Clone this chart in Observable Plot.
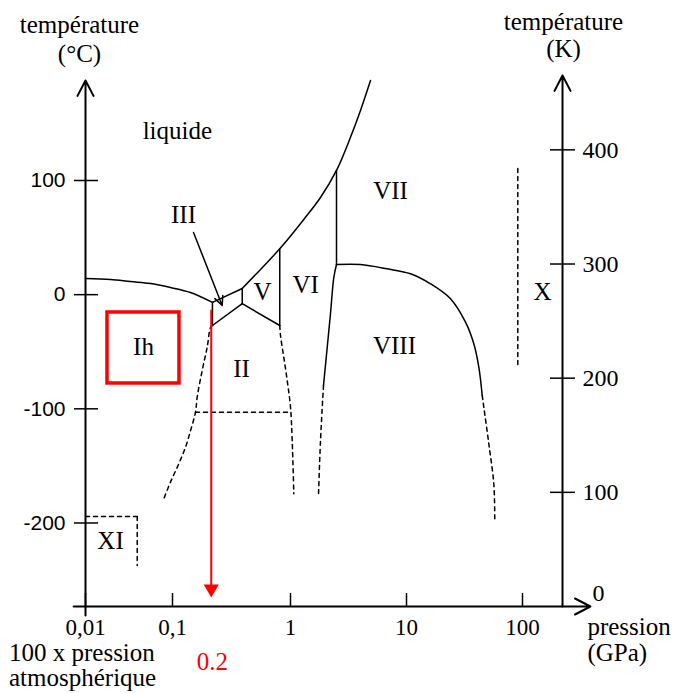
<!DOCTYPE html>
<html><head><meta charset="utf-8">
<script src="https://cdn.jsdelivr.net/npm/d3@7"></script>
<script src="https://cdn.jsdelivr.net/npm/@observablehq/plot@0.6"></script>
<style>body{margin:0;background:#fff}</style>
</head><body><div id="chart"></div>
<script>
// ---- axis ticks ----
const xTicks = [0.01, 0.1, 1, 10, 100];
const xTickLabels = ["0,01", "0,1", "1", "10", "100"];
const yTicksC = [-200, -100, 0, 100];
const yTicksK = [100, 200, 300, 400];

// ---- phase boundaries: [pressure GPa, temperature °C] ----
const ihLiquid = [[0.01,14.2],[0.0194,13.3],[0.0329,11.5],[0.0558,9.8],[0.0948,6.3],[0.142,1.9],[0.218,-6.8]];
const liquidIII = [[0.218,-6.8],[0.390,5.4]];
const liquidHighP = [[0.390,5.4],[0.557,22.1],[0.811,40.2],[1.302,65.9],[1.814,85.1],[2.492,108.8],[3.290,137.9],[4.012,161.4],[4.894,187.6]];
const ihIII = [[0.218,-6.8],[0.218,-27.0]];
const iiiV = [[0.390,5.4],[0.390,-7.9]];
const iiiII = [[0.390,-7.9],[0.218,-27.0]];
const vII = [[0.390,-7.9],[0.811,-27.0]];
const vVI = [[0.811,40.2],[0.811,-27.0]];
const viVII = [[2.492,108.8],[2.492,26.4]];
const viiVIII = [[2.492,26.4],[4.012,26.4],[6.818,22.6],[10.83,18.3],[16.10,9.5],[23.95,-3.6],[32.26,-24.1],[38.04,-43.0],[42.02,-63.5],[44.95,-88.3]];
const viiiDashed = [[44.95,-88.3],[46.39,-98.5],[51.23,-130.6],[56.56,-165.6],[57.69,-196.3]];
const viVIII = [[2.492,26.4],[2.362,15.0],[2.212,-16.5],[2.072,-46.3],[1.925,-79.6]];
const viVIIIDashed = [[1.925,-79.6],[1.814,-127.8],[1.743,-175.9]];
const ihIIDashed = [[0.218,-27.0],[0.210,-28.8],[0.1968,-46.0],[0.1786,-66.3],[0.1618,-89.8],[0.1567,-102.9],[0.1423,-119.0],[0.1289,-133.6],[0.1131,-148.1],[0.0948,-164.2],[0.0794,-178.8]];
const iiVIDashed = [[0.811,-27.0],[0.823,-35.9],[0.877,-54.7],[0.943,-77.0],[1.0,-98.5],[1.034,-127.7],[1.068,-174.4]];
const iiLowDashed = [[0.1567,-103],[1.0,-103]];
const xiH = [[0.01,-194.3],[0.0393,-194.3]];
const xiV = [[0.0393,-194.3],[0.0393,-237.2]];
const phaseXDashed = [[91.1,110.5],[91.1,-63.8]];

// ---- phase labels ----
const phaseNames = ["liquide","Ih","II","III","V","VI","VII","VIII","X","XI"];
const phaseP = [0.110, 0.0464, 0.385, 0.124, 0.579, 1.35, 7.28, 7.88, 148.7, 0.0194];
const phaseT = [143.7, -46.2, -65.5, 70.2, 1.9, 8.9, 90.4, -45.4, 1.9, -216.2];

// ---- axis lines (start, end) ----
const xAxisLine = [[0.0073,-273.15,385,-273.15]];
const yAxisLeft = [[0.01,-281,0.01,187.6]];
const yAxisRight = [[221.3,-273.15,221.3,192]];
const arrowIII = [[0.1507,54.5,0.2636,-9.5]];

// ---- red annotation ----
const redP = 0.213;
const redLine = [[redP,-13.8],[redP,-256]];
const redHead = [[redP,-257.6]];
const redBox = [[0.0179,0.1146,-15.6,-77.8]];

// ---- titles ----
const titleLeft = {text:"température\n(°C)", p:0.00853, t:224.8};
const titleRight = {text:"température\n(K)", p:225.6, t:227.5};
const titleX = {text:"pression\n(GPa)", p:363, t:-302.0};
const titleAtm = {text:"100 x pression\natmosphérique", p:0.00132, t:-325.2};
const redLabel = {text:"0.2", p:0.218, t:-322.2};
const zeroK = {text:"0", p:452, t:-261.7};

const X = d => d[0], Y = d => d[1];
function solid(data, curve="linear") {
  return Plot.line(data, {x: X, y: Y, stroke: "black", strokeWidth: 1.5, curve});
}
function dashed(data, curve="linear") {
  return Plot.line(data, {x: X, y: Y, stroke: "black", strokeWidth: 1.5, strokeDasharray: "4,4", curve});
}
function arrow(data, opts) {
  return Plot.arrow(data, {x1: d=>d[0], y1: d=>d[1], x2: d=>d[2], y2: d=>d[3], stroke: "black", ...opts});
}
function label(o, opts) {
  return Plot.text([o], {x: "p", y: "t", text: "text", ...opts});
}

const chart = Plot.plot({
  width: 678, height: 693,
  marginLeft: 98, marginRight: 129, marginTop: 20, marginBottom: 87,
  x: {type: "log", domain: [0.01, 0.1, 1, 100], range: [85, 172, 290, 522]},
  y: {type: "linear", domain: [-273.15, 100], range: [606, 180]},
  style: {fontFamily: "'Liberation Serif', serif", fontSize: "24px", background: "white", color: "black"},
  marks: [
    // axes
    arrow(xAxisLine, {strokeWidth: 2, headLength: 13, headAngle: 55}),
    arrow(yAxisLeft, {strokeWidth: 2, headLength: 13, headAngle: 55}),
    arrow(yAxisRight, {strokeWidth: 2, headLength: 13, headAngle: 55}),
    Plot.axisX(xTicks, {anchor: "bottom", label: null, tickSize: 13, dy: -13, tickPadding: 12, strokeWidth: 1.5,
      tickFormat: d => xTickLabels[xTicks.indexOf(d)], fontSize: 23}),
    Plot.axisY(yTicksC, {anchor: "left", label: null, tickSize: 24, tickPadding: 9, strokeWidth: 1.5,
      tickFormat: d => String(d), fontFamily: "'Liberation Sans', sans-serif", fontSize: 21}),
    Plot.axisY(yTicksK.map(k => k - 273.15), {anchor: "right", label: null, tickSize: 25, tickPadding: 8, strokeWidth: 1.5,
      tickFormat: d => String(Math.round(d + 273.15)), fontSize: 24}),
    // phase boundaries
    solid(ihLiquid, "catmull-rom"),
    solid(liquidIII),
    solid(liquidHighP, "catmull-rom"),
    solid(ihIII), solid(iiiV), solid(iiiII), solid(vII), solid(vVI), solid(viVII),
    solid(viiVIII, "catmull-rom"),
    dashed(viiiDashed, "catmull-rom"),
    solid(viVIII, "catmull-rom"),
    dashed(viVIIIDashed, "catmull-rom"),
    dashed(ihIIDashed, "catmull-rom"),
    dashed(iiVIDashed, "catmull-rom"),
    dashed(iiLowDashed), dashed(xiH), dashed(xiV), dashed(phaseXDashed),
    arrow(arrowIII, {strokeWidth: 1.5, headLength: 10, headAngle: 50}),
    // phase labels
    Plot.text(phaseNames, {x: (d,i) => phaseP[i], y: (d,i) => phaseT[i], text: d => d, fontSize: 25}),
    // titles
    label(titleLeft, {fontSize: 25, lineHeight: 1.16}),
    label(titleRight, {fontSize: 25, lineHeight: 1.1}),
    label(titleX, {fontSize: 25, lineHeight: 1.05, textAnchor: "start"}),
    label(titleAtm, {fontSize: 25, lineHeight: 1.0, textAnchor: "start"}),
    label(zeroK, {fontSize: 24}),
    // red annotation
    Plot.rect(redBox, {x1: d=>d[0], x2: d=>d[1], y1: d=>d[2], y2: d=>d[3], fill: "none", stroke: "red", strokeWidth: 3.5}),
    Plot.line(redLine, {x: X, y: Y, stroke: "red", strokeWidth: 2}),
    Plot.dot(redHead, {x: X, y: Y, symbol: "triangle", rotate: 180, r: 5.6, fill: "red", stroke: "none"}),
    label(redLabel, {fontSize: 25, fill: "red"})
  ]
});
document.getElementById("chart").append(chart);
</script>
</body></html>
